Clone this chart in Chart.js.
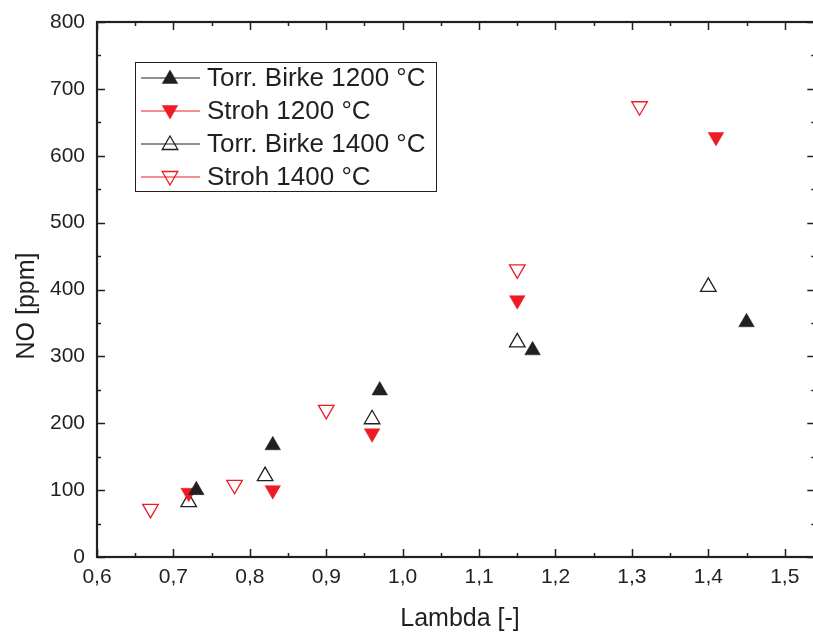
<!DOCTYPE html>
<html>
<head>
<meta charset="utf-8">
<script src="https://cdn.jsdelivr.net/npm/chart.js@4.4.1/dist/chart.umd.min.js"></script>
<style>
  html, body { margin: 0; padding: 0; background: #fff; overflow: hidden; }
  canvas { display: block; }
</style>
</head>
<body>
<canvas id="myChart" width="813" height="632"></canvas>
<script>
const ink = '#231f20';
const red = '#ed1c24';

// Lambda / NO measurements
const lambdaBirke1200 = [0.73, 0.83, 0.97, 1.17, 1.45];
const noBirke1200 = [100, 167, 249, 309, 351];

const lambdaStroh1200 = [0.72, 0.83, 0.96, 1.15, 1.41];
const noStroh1200 = [96, 100, 185, 384, 628];

const lambdaBirke1400 = [0.72, 0.82, 0.96, 1.15, 1.40];
const noBirke1400 = [82, 121, 206, 321, 404];

const lambdaStroh1400 = [0.67, 0.78, 0.90, 1.15, 1.31];
const noStroh1400 = [72, 108, 220, 430, 674];

const xTicks = [0.6, 0.7, 0.8, 0.9, 1.0, 1.1, 1.2, 1.3, 1.4, 1.5];
const yTicks = [0, 100, 200, 300, 400, 500, 600, 700, 800];

const xTitle = 'Lambda [-]';
const yTitle = 'NO [ppm]';

function pts(xs, ys) {
  return xs.map((x, i) => ({ x: x, y: ys[i] }));
}

function series(label, xs, ys, color, filled, down) {
  return {
    label: label,
    data: pts(xs, ys),
    pointStyle: 'triangle',
    rotation: down ? 180 : 0,
    pointRadius: 9,
    pointHoverRadius: 9,
    pointBackgroundColor: filled ? color : 'rgba(0,0,0,0)',
    pointBorderColor: color,
    pointBorderWidth: filled ? 0.5 : 1.3,
    showLine: false,
    lineColor: color
  };
}

const fontFamily = "'Liberation Sans', Arial, sans-serif";

// inward ticks + frame (right edge of the frame sits just past the canvas)
const framePlugin = {
  id: 'frame',
  afterDatasetsDraw(chart) {
    const { ctx, chartArea: a, scales } = chart;
    ctx.save();
    ctx.strokeStyle = ink;
    ctx.lineWidth = 1.5;
    ctx.beginPath();
    for (let i = 0; i <= 18; i++) {
      const v = 0.6 + i * 0.05;
      const px = Math.round(scales.x.getPixelForValue(v)) + 0.5;
      const len = i % 2 === 0 ? 8 : 4;
      ctx.moveTo(px, a.bottom); ctx.lineTo(px, a.bottom - len);
      ctx.moveTo(px, a.top); ctx.lineTo(px, a.top + len);
    }
    const xr = scales.x.getPixelForValue(1.54);
    for (let i = 0; i <= 16; i++) {
      const v = i * 50;
      const py = Math.round(scales.y.getPixelForValue(v)) + 0.5;
      const len = i % 2 === 0 ? 8 : 4;
      ctx.moveTo(a.left, py); ctx.lineTo(a.left + len, py);
      ctx.moveTo(xr, py); ctx.lineTo(xr - len, py);
    }
    ctx.stroke();
    ctx.lineWidth = 2.2;
    ctx.strokeRect(a.left, a.top, xr - a.left, a.bottom - a.top);

    // axis titles
    ctx.fillStyle = ink;
    ctx.font = '25px ' + fontFamily;
    ctx.textAlign = 'center';
    ctx.textBaseline = 'alphabetic';
    ctx.fillText(xTitle, a.left + 363, a.bottom + 69);
    ctx.translate(a.left - 63, a.top + 284);
    ctx.rotate(-Math.PI / 2);
    ctx.fillText(yTitle, 0, 0);
    ctx.restore();
  }
};

// legend box with line through marker
const legendPlugin = {
  id: 'lineLegend',
  afterDraw(chart) {
    const { ctx, chartArea: a } = chart;
    const x0 = a.left + 38, y0 = a.top + 40;
    const w = 301, h = 129;
    ctx.save();
    ctx.strokeStyle = ink;
    ctx.lineWidth = 1;
    ctx.strokeRect(x0 + 0.5, y0 + 0.5, w, h);
    ctx.font = '26px ' + fontFamily;
    ctx.textBaseline = 'middle';
    chart.data.datasets.forEach((ds, i) => {
      const y = y0 + 16 + i * 33;
      ctx.strokeStyle = ds.lineColor;
      ctx.lineWidth = 1;
      ctx.beginPath();
      ctx.moveTo(x0 + 6, y);
      ctx.lineTo(x0 + 65, y);
      ctx.stroke();
      ctx.fillStyle = ds.pointBackgroundColor;
      ctx.strokeStyle = ds.pointBorderColor;
      ctx.lineWidth = ds.pointBorderWidth;
      Chart.helpers.drawPoint(ctx, {
        pointStyle: 'triangle', radius: 9, rotation: ds.rotation, borderWidth: ds.pointBorderWidth
      }, x0 + 35, y + (ds.rotation ? -1 : 1));
      ctx.fillStyle = ink;
      ctx.fillText(ds.label, x0 + 72, y + 1);
    });
    ctx.restore();
  }
};

const ctx = document.getElementById('myChart');

let myChart = new Chart(ctx, {
  type: 'scatter',
  data: {
    datasets: [
      series('Torr. Birke 1200 °C', lambdaBirke1200, noBirke1200, ink, true, false),
      series('Stroh 1200 °C', lambdaStroh1200, noStroh1200, red, true, true),
      series('Torr. Birke 1400 °C', lambdaBirke1400, noBirke1400, ink, false, false),
      series('Stroh 1400 °C', lambdaStroh1400, noStroh1400, red, false, true)
    ]
  },
  options: {
    responsive: false,
    animation: false,
    events: [],
    clip: false,
    layout: { autoPadding: false, padding: { top: 22, right: 0, left: 0, bottom: 0 } },
    plugins: {
      legend: { display: false },
      tooltip: { enabled: false }
    },
    scales: {
      x: {
        type: 'linear',
        min: 0.6,
        max: 1.537,
        afterBuildTicks: s => { s.ticks = xTicks.map(v => ({ value: v })); },
        afterFit: s => { s.height = 75; s.paddingLeft = 0; s.paddingRight = 0; },
        grid: { display: false, drawTicks: false },
        border: { display: false },
        ticks: {
          padding: 8,
          color: ink,
          font: { family: fontFamily, size: 21 },
          callback: v => v.toFixed(1).replace('.', ',')
        }
      },
      y: {
        type: 'linear',
        min: 0,
        max: 800,
        afterBuildTicks: s => { s.ticks = yTicks.map(v => ({ value: v })); },
        afterFit: s => { s.width = 97; s.paddingTop = 0; s.paddingBottom = 0; },
        grid: { display: false, drawTicks: false },
        border: { display: false },
        ticks: {
          padding: 12,
          color: ink,
          font: { family: fontFamily, size: 21 },
          callback: v => String(v)
        }
      }
    }
  },
  plugins: [framePlugin, legendPlugin]
});
</script>
</body>
</html>
